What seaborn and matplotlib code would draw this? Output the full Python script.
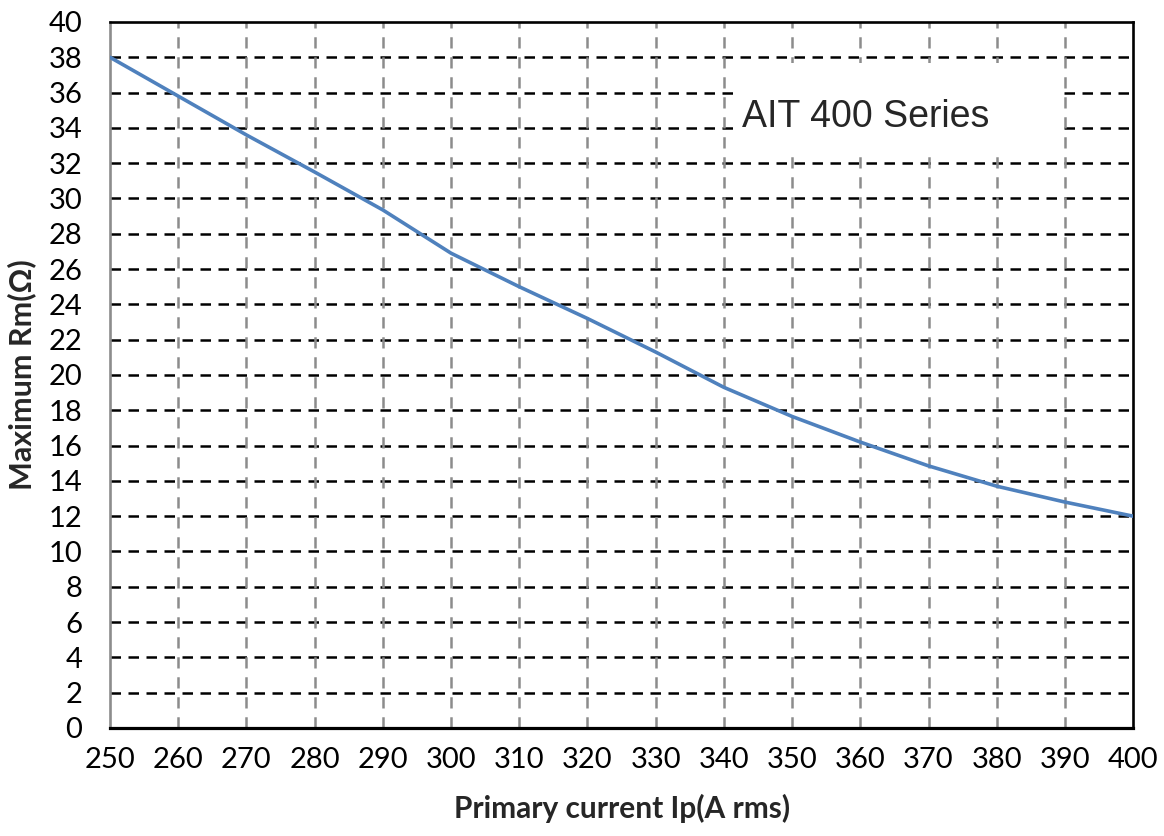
import matplotlib
matplotlib.use("Agg")
import matplotlib.pyplot as plt
import seaborn as sns
import pandas as pd
from matplotlib.patches import Rectangle

# Valores (cada 10 A)
corriente = [250, 260, 270, 280, 290, 300, 310, 320, 330, 340, 350, 360, 370, 380, 390, 400]
rm_max = [38.0, 35.8, 33.6, 31.5, 29.35, 26.9, 25.0, 23.2, 21.3, 19.3, 17.65, 16.2, 14.85, 13.7, 12.8, 12.0]
x_ticks = list(range(250, 401, 10))
y_ticks = list(range(0, 41, 2))

sns.set_style("white")
plt.rcParams["font.family"] = ["Lato", "DejaVu Sans"]

df = pd.DataFrame({"ip": corriente, "rm": rm_max})

fig = plt.figure(figsize=(11.64, 8.36), dpi=100)
ax = fig.add_axes([0.0945, 0.1292, 0.879, 0.8445])

sns.lineplot(data=df, x="ip", y="rm", ax=ax, color="#4f81bd", linewidth=2.6, zorder=3)

ax.set_xlim(250, 400)
ax.set_ylim(0, 40)
ax.set_xticks(x_ticks)
ax.set_yticks(y_ticks)

# rejilla: horizontales negras, verticales grises
for yv in y_ticks[1:-1]:
    ax.axhline(yv, color="black", linewidth=1.8, dashes=(4.2, 3), zorder=1)
for xv in x_ticks[1:-1]:
    ax.axvline(xv, color="#8c8c8c", linewidth=1.8, dashes=(4.5, 3.5), zorder=1.2)

# recuadro blanco con el nombre de la serie
ax.add_patch(Rectangle((342, 32.5), 47.7, 5.2, facecolor="white", edgecolor="none", zorder=2))
ax.text(360.8, 34.6, "AIT 400 Series", fontsize=27, family=["Liberation Sans", "DejaVu Sans"],
        ha="center", va="center", zorder=4)

for side in ["top", "right", "bottom"]:
    ax.spines[side].set_color("black")
    ax.spines[side].set_linewidth(1.9)
ax.spines["bottom"].set_linewidth(2.3)
ax.spines["left"].set_color("#8c8c8c")
ax.spines["left"].set_linewidth(1.9)

ax.tick_params(axis="x", length=0, pad=14, labelsize=21, colors="black")
ax.tick_params(axis="y", length=0, pad=20, labelsize=21, colors="black")

ax.set_xlabel("Primary current Ip(A rms)", fontsize=21.5, fontweight="bold", labelpad=15)
ax.set_ylabel("Maximum Rm(Ω)", fontsize=22, fontweight="bold", labelpad=9)

fig.savefig("out.png", dpi=100)
